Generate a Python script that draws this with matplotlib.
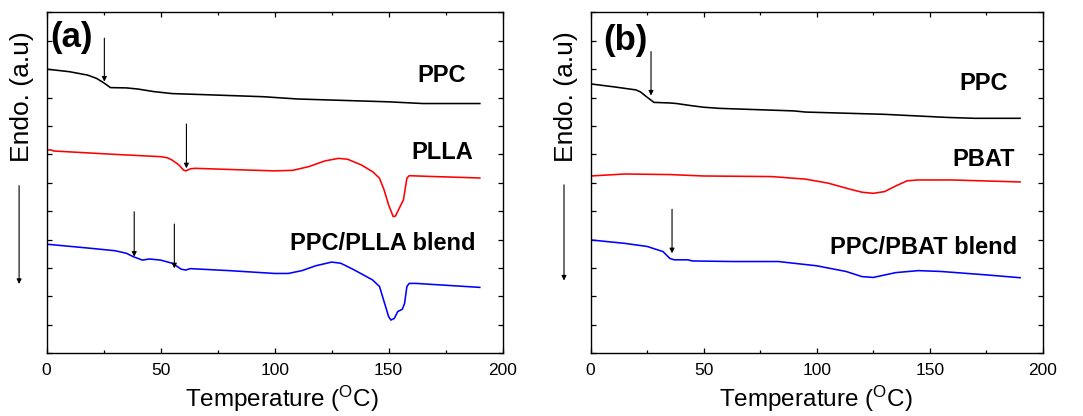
import matplotlib
matplotlib.use("Agg")
import matplotlib.pyplot as plt
from matplotlib.ticker import MultipleLocator

plt.rcParams['font.family'] = ['Liberation Sans', 'DejaVu Sans']
plt.rcParams['mathtext.fontset'] = 'custom'
plt.rcParams['mathtext.rm'] = 'Liberation Sans'

# ---- panel (a): PPC / PLLA ----
a_ppc_t = [0, 10, 18, 22, 25, 28, 35, 40, 47, 55, 70, 95, 110, 130, 150, 165, 190]
a_ppc_y = [10.00, 9.91, 9.79, 9.67, 9.52, 9.35, 9.34, 9.30, 9.21, 9.14, 9.10, 9.03,
           8.95, 8.90, 8.85, 8.79, 8.79]

a_plla_t = [0, 2, 3, 30, 50, 53, 55, 58, 60, 61, 63, 65, 80, 100, 108, 115, 122, 128,
            132, 138, 143, 146, 148, 150, 152, 153, 155, 156.5, 158, 159, 170, 190]
a_plla_y = [7.15, 7.16, 7.12, 7.00, 6.92, 6.88, 6.80, 6.63, 6.45, 6.42, 6.49, 6.51,
            6.47, 6.42, 6.44, 6.57, 6.77, 6.86, 6.83, 6.63, 6.39, 6.16, 5.75, 5.22,
            4.81, 4.83, 5.16, 5.40, 6.16, 6.25, 6.22, 6.17]

a_blend_t = [0, 20, 30, 35, 38, 42, 45, 50, 55, 57, 59, 61, 63, 80, 100, 106, 112, 118,
             125, 129, 135, 143, 146, 148, 150, 151, 152.5, 154, 156, 157, 158, 159,
             162, 190]
a_blend_y = [3.84, 3.69, 3.61, 3.52, 3.40, 3.28, 3.32, 3.28, 3.17, 3.07, 2.96, 2.93,
             2.98, 2.91, 2.81, 2.81, 2.91, 3.08, 3.21, 3.17, 2.93, 2.58, 2.35, 1.82,
             1.29, 1.17, 1.23, 1.47, 1.55, 1.76, 2.35, 2.46, 2.46, 2.32]

# arrows: (x, y_start, y_end)
a_arrows = [(25.3, 11.09, 9.56), (61.3, 8.07, 6.51), (38.4, 4.98, 3.40), (56.0, 4.55, 2.99)]
a_labels = ['PPC', 'PLLA', 'PPC/PLLA blend']
a_label_pos = [(184, 9.79), (187, 7.07), (188, 3.87)]

# ---- panel (b): PPC / PBAT ----
b_ppc_t = [0, 10, 20, 22, 25, 28, 35, 38, 45, 50, 57, 90, 95, 130, 158, 170, 190]
b_ppc_y = [9.48, 9.38, 9.27, 9.20, 9.01, 8.83, 8.81, 8.79, 8.71, 8.66, 8.62, 8.53,
           8.49, 8.41, 8.30, 8.27, 8.27]

b_pbat_t = [0, 15, 35, 50, 80, 95, 105, 115, 120, 125, 130, 135, 140, 145, 160, 190]
b_pbat_y = [6.24, 6.31, 6.29, 6.24, 6.22, 6.13, 5.99, 5.77, 5.67, 5.63, 5.69, 5.89,
            6.07, 6.10, 6.10, 6.03]

b_blend_t = [0, 15, 25, 32, 35, 37, 43, 45, 63, 83, 100, 113, 120, 125, 135, 145, 155,
             175, 190]
b_blend_y = [3.99, 3.87, 3.76, 3.58, 3.34, 3.29, 3.29, 3.25, 3.23, 3.23, 3.08, 2.88,
             2.70, 2.67, 2.84, 2.91, 2.88, 2.76, 2.66]

b_arrows = [(26.7, 10.62, 9.07), (36.0, 5.07, 3.52)]
b_labels = ['PPC', 'PBAT', 'PPC/PBAT blend']
b_label_pos = [(184.8, 9.48), (187.8, 6.83), (188.5, 3.73)]

colors = ['black', '#ff0000', '#0000ff']

fig = plt.figure(figsize=(10.83, 4.16), dpi=100)
ax_a = fig.add_axes([0.0431, 0.1507, 0.421, 0.8197])
ax_b = fig.add_axes([0.5454, 0.1507, 0.4174, 0.8197])


def draw_panel(ax, curves, arrows, labels, label_pos, tag, tag_pos, big_arrow, xlab_x):
    for (t, y), c in zip(curves, colors):
        ax.plot(t, y, color=c, lw=1.15)
    for x, y0, y1 in arrows:
        ax.annotate('', xy=(x, y1), xytext=(x, y0),
                    arrowprops=dict(arrowstyle='-|>', color='black', lw=0.8,
                                    mutation_scale=7, shrinkA=0, shrinkB=0))
    for lab, (x, y) in zip(labels, label_pos):
        ax.text(x, y, lab, ha='right', va='center', fontsize=17, fontweight='bold')
    ax.text(tag_pos[0], tag_pos[1], tag, ha='center', va='center',
            fontsize=25, fontweight='bold')
    # big "endo" arrow outside the axes
    bx, by0, by1 = big_arrow
    ax.annotate('', xy=(bx, by1), xytext=(bx, by0), annotation_clip=False,
                arrowprops=dict(arrowstyle='-|>', color='black', lw=0.8,
                                mutation_scale=7, shrinkA=0, shrinkB=0))
    ax.set_xlim(0, 200)
    ax.set_ylim(0, 12)
    ax.xaxis.set_major_locator(MultipleLocator(50))
    ax.xaxis.set_minor_locator(MultipleLocator(25))
    ax.yaxis.set_major_locator(MultipleLocator(1))
    ax.tick_params(which='both', direction='in', top=True, right=True,
                   labelsize=12.5, pad=7)
    ax.tick_params(which='major', length=3.5, width=0.9)
    ax.tick_params(which='minor', length=2.5, width=0.9)
    ax.set_yticklabels([])
    for s in ax.spines.values():
        s.set_linewidth(1.0)
    ax.text(-0.054, 0.752, 'Endo. (a.u)', transform=ax.transAxes, rotation=90,
            ha='center', va='center', fontsize=19)
    ax.text(xlab_x, -0.158, r'Temperature ($\mathregular{^{O}}$C)', transform=ax.transAxes,
            ha='center', va='baseline', fontsize=17.5)


draw_panel(ax_a, [(a_ppc_t, a_ppc_y), (a_plla_t, a_plla_y), (a_blend_t, a_blend_y)],
           a_arrows, a_labels, a_label_pos, '(a)', (10.7, 11.13), (-12.1, 5.90, 2.44), 0.515)
draw_panel(ax_b, [(b_ppc_t, b_ppc_y), (b_pbat_t, b_pbat_y), (b_blend_t, b_blend_y)],
           b_arrows, b_labels, b_label_pos, '(b)', (15.6, 11.0), (-11.8, 5.93, 2.56), 0.498)

fig.savefig('out.png', dpi=100)
